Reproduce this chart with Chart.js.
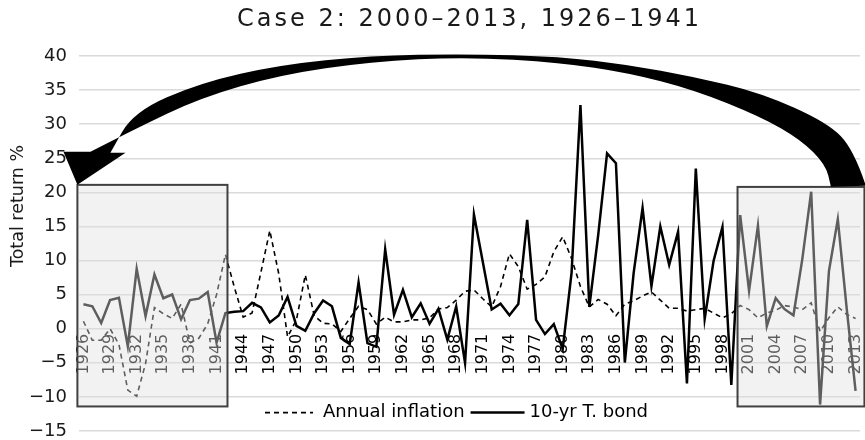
<!DOCTYPE html>
<html>
<head>
<meta charset="utf-8">
<script src="https://cdn.jsdelivr.net/npm/chart.js@4.4.1/dist/chart.umd.min.js"></script>
<style>
  html, body { margin: 0; padding: 0; background: #fff; }
  #wrap { width: 865px; height: 440px; }
</style>
</head>
<body>
<div id="wrap"><canvas id="myChart"></canvas></div>
<script>
const years = [
  1926, 1927, 1928, 1929, 1930, 1931, 1932, 1933, 1934, 1935,
  1936, 1937, 1938, 1939, 1940, 1941, 1942, 1943, 1944, 1945,
  1946, 1947, 1948, 1949, 1950, 1951, 1952, 1953, 1954, 1955,
  1956, 1957, 1958, 1959, 1960, 1961, 1962, 1963, 1964, 1965,
  1966, 1967, 1968, 1969, 1970, 1971, 1972, 1973, 1974, 1975,
  1976, 1977, 1978, 1979, 1980, 1981, 1982, 1983, 1984, 1985,
  1986, 1987, 1988, 1989, 1990, 1991, 1992, 1993, 1994, 1995,
  1996, 1997, 1998, 1999, 2000, 2001, 2002, 2003, 2004, 2005,
  2006, 2007, 2008, 2009, 2010, 2011, 2012, 2013
];

// annual inflation, %
const inflation = [
  1.1, -1.7, -1.7, 0.0, -2.3, -9.0, -9.9, -5.1, 3.1, 2.2,
  1.5, 3.6, -2.1, -1.4, 0.7, 5.0, 10.9, 6.1, 1.7, 2.3,
  8.3, 14.4, 8.1, -1.2, 1.3, 7.9, 1.9, 0.8, 0.7, -0.4,
  1.5, 3.3, 2.8, 0.7, 1.7, 1.0, 1.0, 1.3, 1.3, 1.6,
  2.9, 3.1, 4.2, 5.5, 5.7, 4.4, 3.2, 6.2, 11.0, 9.1,
  5.8, 6.5, 7.6, 11.3, 13.5, 10.3, 6.2, 3.2, 4.3, 3.6,
  1.9, 3.6, 4.1, 4.8, 5.4, 4.2, 3.0, 3.0, 2.6, 2.8,
  3.0, 2.3, 1.6, 2.2, 3.4, 2.8, 1.6, 2.3, 2.7, 3.4,
  3.2, 2.8, 3.8, -0.4, 1.6, 3.2, 2.1, 1.5
];

// 10-yr treasury bond total return, %
const bond = [
  3.6, 3.3, 0.84, 4.20, 4.54, -2.56, 8.79, 1.86, 7.96, 4.47,
  5.02, 1.38, 4.21, 4.41, 5.40, -2.02, 2.29, 2.49, 2.58, 3.80,
  3.13, 0.92, 1.95, 4.66, 0.43, -0.30, 2.27, 4.14, 3.29, -1.34,
  -2.26, 6.80, -2.10, -2.65, 11.64, 2.06, 5.69, 1.68, 3.73, 0.72,
  2.91, -1.58, 3.27, -5.01, 16.75, 9.79, 2.82, 3.66, 1.99, 3.61,
  15.98, 1.29, -0.78, 0.67, -2.99, 8.20, 32.81, 3.20, 13.73, 25.71,
  24.28, -4.96, 8.22, 17.69, 6.24, 15.00, 9.36, 14.21, -8.04, 23.48,
  1.43, 9.94, 14.92, -8.25, 16.66, 5.57, 15.12, 0.38, 4.49, 2.87,
  1.96, 10.21, 20.10, -11.12, 8.46, 16.04, 2.97, -9.10
];

const yTicks = [-15, -10, -5, 0, 5, 10, 15, 20, 25, 30, 35, 40];

const FONT = '"DejaVu Sans", sans-serif';
const TITLE = 'Case 2: 2000–2013, 1926–1941';

// shaded periods, in (category index, value) units
const periods = [
  { x0: -0.68, x1: 16.23, y0: -11.4, y1: 21.1 },
  { x0: 73.7, x1: 88.0, y0: -11.4, y1: 20.8 }
];

// arrow outline from the 2000s box back to the 1926 box, (index, value)
const arrowOuter = [
  [88.16, 20.97], [86.81, 26.25], [83.88, 30.21], [76.32, 34.60], [68.77, 36.95],
  [61.33, 38.71], [53.78, 39.88], [43.07, 40.32], [32.36, 40.03], [22.21, 38.71],
  [13.19, 36.07], [5.64, 31.82], [3.04, 25.81]
];
const arrowHead = [[4.74, 25.81], [-0.68, 21.11], [-2.25, 25.95], [0.79, 25.95]];
const arrowInner = [
  [0.79, 25.95], [5.64, 29.18], [13.19, 33.87], [22.21, 37.24], [32.36, 39.15],
  [43.07, 39.88], [53.78, 39.00], [61.33, 37.54], [68.77, 35.04], [76.32, 31.09],
  [80.83, 27.71], [83.65, 24.05], [84.22, 20.82]
];

function smoothThrough(ctx, pts) {
  for (let i = 1; i < pts.length - 1; i++) {
    const mx = (pts[i][0] + pts[i + 1][0]) / 2;
    const my = (pts[i][1] + pts[i + 1][1]) / 2;
    ctx.quadraticCurveTo(pts[i][0], pts[i][1], mx, my);
  }
  const last = pts[pts.length - 1];
  ctx.lineTo(last[0], last[1]);
}

const overlays = {
  id: 'overlays',
  afterDraw(chart) {
    const { ctx, chartArea, scales: { x, y } } = chart;
    const px = p => [x.getPixelForValue(p[0]), y.getPixelForValue(p[1])];
    const midX = (chartArea.left + chartArea.right) / 2;

    // title
    ctx.save();
    ctx.font = '24px ' + FONT;
    ctx.letterSpacing = '3px';
    ctx.fillStyle = '#1a1a1a';
    ctx.textAlign = 'center';
    ctx.textBaseline = 'middle';
    ctx.fillText(TITLE, midX, 20);
    ctx.restore();

    // grey boxes over the two periods
    ctx.save();
    periods.forEach(b => {
      const l = x.getPixelForValue(b.x0), r = x.getPixelForValue(b.x1);
      const t = y.getPixelForValue(b.y1), btm = y.getPixelForValue(b.y0);
      ctx.fillStyle = 'rgba(221, 224, 221, 0.42)';
      ctx.fillRect(l, t, r - l, btm - t);
      ctx.strokeStyle = '#404040';
      ctx.lineWidth = 2;
      ctx.strokeRect(l, t, r - l, btm - t);
    });
    ctx.restore();

    // curved arrow
    ctx.save();
    const outer = arrowOuter.map(px);
    const inner = arrowInner.map(px);
    ctx.beginPath();
    ctx.moveTo(outer[0][0], outer[0][1]);
    smoothThrough(ctx, outer);
    arrowHead.map(px).forEach(p => ctx.lineTo(p[0], p[1]));
    smoothThrough(ctx, inner);
    ctx.closePath();
    ctx.fillStyle = '#000';
    ctx.fill();
    ctx.restore();

    // legend inside the plot
    ctx.save();
    ctx.font = '18px ' + FONT;
    ctx.textBaseline = 'middle';
    ctx.fillStyle = '#000';
    const label1 = 'Annual inflation', label2 = '10-yr T. bond';
    const w1 = ctx.measureText(label1).width, w2 = ctx.measureText(label2).width;
    const total = 48 + 10 + w1 + 6 + 54 + 5 + w2;
    let lx = midX - 13 - total / 2;
    const ly = y.getPixelForValue(-12.3);
    ctx.strokeStyle = '#000';
    ctx.lineWidth = 1.6;
    ctx.setLineDash([5, 4]);
    ctx.beginPath();
    ctx.moveTo(lx, ly);
    ctx.lineTo(lx + 48, ly);
    ctx.stroke();
    lx += 58;
    ctx.fillText(label1, lx, ly);
    lx += w1 + 6;
    ctx.setLineDash([]);
    ctx.lineWidth = 2.5;
    ctx.beginPath();
    ctx.moveTo(lx, ly);
    ctx.lineTo(lx + 54, ly);
    ctx.stroke();
    lx += 59;
    ctx.fillText(label2, lx, ly);
    ctx.restore();

    // y axis title
    ctx.save();
    ctx.font = '17.5px ' + FONT;
    ctx.fillStyle = '#1a1a1a';
    ctx.textAlign = 'center';
    ctx.textBaseline = 'middle';
    ctx.translate(18, y.getPixelForValue(18));
    ctx.rotate(-Math.PI / 2);
    ctx.fillText('Total return %', 0, 0);
    ctx.restore();
  }
};

new Chart(document.getElementById('myChart'), {
  type: 'line',
  data: {
    labels: years.map(String),
    datasets: [
      {
        label: '10-yr T. bond',
        data: bond,
        borderColor: '#000',
        borderWidth: 2.5,
        pointRadius: 0,
        fill: false,
        order: 0
      },
      {
        label: 'Annual inflation',
        data: inflation,
        borderColor: '#000',
        borderWidth: 1.6,
        borderDash: [5, 4],
        pointRadius: 0,
        fill: false,
        order: 1
      }
    ]
  },
  options: {
    responsive: true,
    maintainAspectRatio: false,
    devicePixelRatio: 1,
    animation: false,
    layout: { padding: { left: 0, right: 5, top: 56, bottom: 0 } },
    plugins: {
      legend: { display: false },
      tooltip: { enabled: false },
      title: { display: false }
    },
    scales: {
      x: {
        type: 'category',
        position: { y: 0 },
        offset: true,
        grid: { display: false, drawTicks: false },
        border: { display: false },
        afterFit: scale => {
          // labels sit on the zero line, so the axis takes no room of its own
          scale.height = 0;
          scale.paddingLeft = 0;
          scale.paddingRight = 0;
        },
        ticks: {
          autoSkip: false,
          maxRotation: 90,
          minRotation: 90,
          padding: 5,
          color: '#000',
          font: { family: FONT, size: 16 },
          callback: function (v, i) {
            return i % 3 === 0 ? this.getLabelForValue(v) : '';
          }
        }
      },
      y: {
        min: yTicks[0],
        max: yTicks[yTicks.length - 1],
        afterBuildTicks: scale => {
          scale.ticks = yTicks.map(v => ({ value: v }));
        },
        afterFit: scale => {
          scale.width = 79;
          scale.paddingTop = 0;
          scale.paddingBottom = 9;
        },
        grid: { color: '#dadada', lineWidth: 1.5, drawTicks: false },
        border: { display: false },
        ticks: {
          padding: 12,
          color: '#1a1a1a',
          font: { family: FONT, size: 18 },
          callback: v => String(v).replace('-', '\u2212')
        }
      }
    }
  },
  plugins: [overlays]
});
</script>
</body>
</html>
